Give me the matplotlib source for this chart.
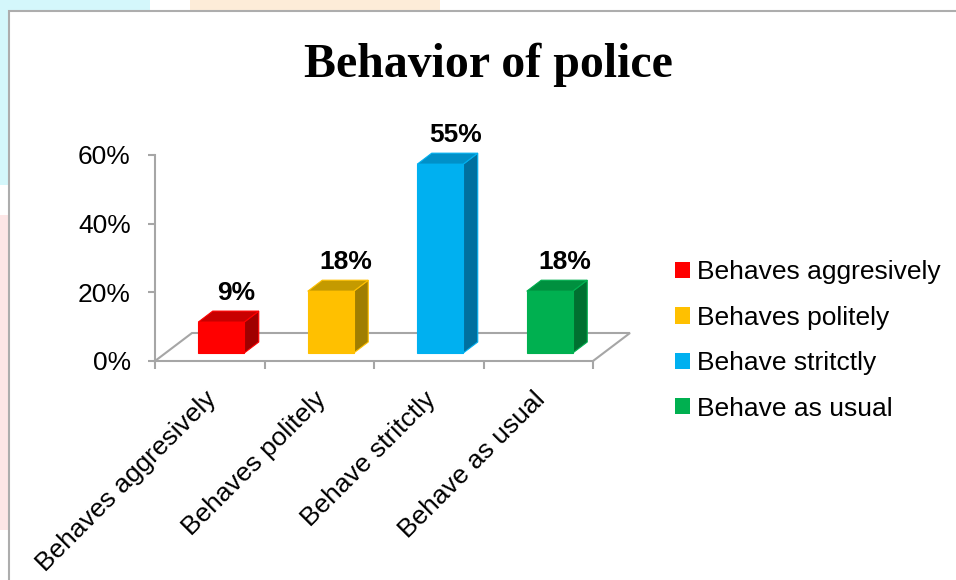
import matplotlib
matplotlib.use("Agg")
import matplotlib.pyplot as plt
from matplotlib.patches import Polygon, Rectangle

# ---------------- data ----------------
categories = ["Behaves aggresively", "Behaves politely", "Behave stritctly", "Behave as usual"]
values = [9, 18, 55, 18]
front_colors = ["#FF0000", "#FFC000", "#00B0F0", "#00B050"]
top_colors = ["#C80000", "#C49A00", "#0090C8", "#00903F"]
side_colors = ["#A00000", "#A07E00", "#00709F", "#007030"]
y_ticks = [0, 20, 40, 60]
y_tick_labels = ["0%", "20%", "40%", "60%"]
title = "Behavior of police"

# ---------------- figure ----------------
W, H = 956, 580
fig = plt.figure(figsize=(W / 100, H / 100), dpi=100)
fig.patch.set_facecolor("white")


def px_rect(x0, y0, x1, y1, color, z=-2, fill=True, lw=0):
    r = Rectangle((x0 / W, 1 - y1 / H), (x1 - x0) / W, (y1 - y0) / H,
                  transform=fig.transFigure, facecolor=color if fill else "none",
                  edgecolor="none" if fill else color, lw=lw, zorder=z)
    fig.patches.append(r)


# faint watermark fragments outside the chart frame
px_rect(0, 0, 150, 10, "#D4F7FB")
px_rect(190, 0, 440, 10, "#FDECD8")
px_rect(0, 0, 8, 185, "#D4F7FB")
px_rect(0, 215, 8, 530, "#FDE6E6")
# chart frame
px_rect(8.5, 11, W + 10, H + 10, "#ADADAD", z=-1, fill=False, lw=1.5)

plt.rcParams["font.family"] = ["Liberation Sans", "DejaVu Sans"]
GRAY = "#A6A6A6"

ax = fig.add_axes([155 / W, (H - 361) / H, 438 / W, 206 / H])
ax.set_xlim(0, 4)
ax.set_ylim(0, 60)
ax.patch.set_alpha(0)
for s in ["top", "right"]:
    ax.spines[s].set_visible(False)
for s in ["left", "bottom"]:
    ax.spines[s].set_color(GRAY)
    ax.spines[s].set_linewidth(1.5)

PX = 4 / 438    # data-x per pixel
PY = 60 / 206   # data-y per pixel

ax.set_yticks(y_ticks)
ax.set_yticklabels(y_tick_labels, fontsize=19)
ax.tick_params(axis="y", length=5, width=1.5, color=GRAY, pad=12.5)
ax.set_xticks(range(len(categories) + 1))
ax.set_xticklabels([])
ax.tick_params(axis="x", length=5.8, width=1.5, color=GRAY)

# 3D floor outline
fdx, fdy = 37 * PX, 28 * PY
ax.plot([0, fdx, 4 + fdx, 4], [0, fdy, fdy, 0], color=GRAY, lw=1.5,
        clip_on=False, zorder=1, solid_joinstyle="miter")

# 3D bars
bw = 46 * PX
box, boy = 11.5 * PX, 8 * PY
sdx, sdy = 14.5 * PX, 11 * PY
for i, (v, fc, tc, sc) in enumerate(zip(values, front_colors, top_colors, side_colors)):
    x0 = i + 0.5 - bw / 2 + box
    y0 = boy
    side = Polygon([(x0 + bw, y0), (x0 + bw + sdx, y0 + sdy), (x0 + bw + sdx, y0 + v + sdy),
                    (x0 + bw, y0 + v)], closed=True, facecolor=sc, edgecolor=fc, lw=0.8,
                   clip_on=False, zorder=3)
    top = Polygon([(x0, y0 + v), (x0 + bw, y0 + v), (x0 + bw + sdx, y0 + v + sdy),
                   (x0 + sdx, y0 + v + sdy)], closed=True, facecolor=tc, edgecolor=fc, lw=0.8,
                  clip_on=False, zorder=3)
    front = Rectangle((x0, y0), bw, v, facecolor=fc, edgecolor=fc, lw=0.8,
                      clip_on=False, zorder=4)
    for p in (side, top, front):
        ax.add_patch(p)
    ax.annotate(f"{v}%", xy=(x0 + bw / 2, y0 + v), xytext=(15 * 0.72, 29 * 0.72),
                textcoords="offset points", ha="center", va="center",
                fontsize=19, fontweight="bold", annotation_clip=False, zorder=5)

# rotated category labels (text end sits just below each category centre)
for i, lab in enumerate(categories):
    ax.text(i + 0.5 - 5 * PX, -26 * PY, lab, rotation=45, rotation_mode="anchor",
            ha="right", va="top", fontsize=19, clip_on=False)

# title
fig.text(488 / W, 1 - 77 / H, title, ha="center", va="baseline",
         fontsize=34.5, fontweight="bold", family=["Liberation Serif", "DejaVu Serif"])

# legend
handles = [Rectangle((0, 0), 1, 1, facecolor=c, edgecolor="none") for c in front_colors]
fig.legend(handles, categories, loc="upper left", bbox_to_anchor=(675 / W, 1 - 260.5 / H),
           frameon=False, prop={"size": 19}, handlelength=0.57, handleheight=0.57,
           handletextpad=0.25, labelspacing=0.81, borderpad=0, borderaxespad=0)

fig.savefig("out.png", dpi=100, facecolor="white")
